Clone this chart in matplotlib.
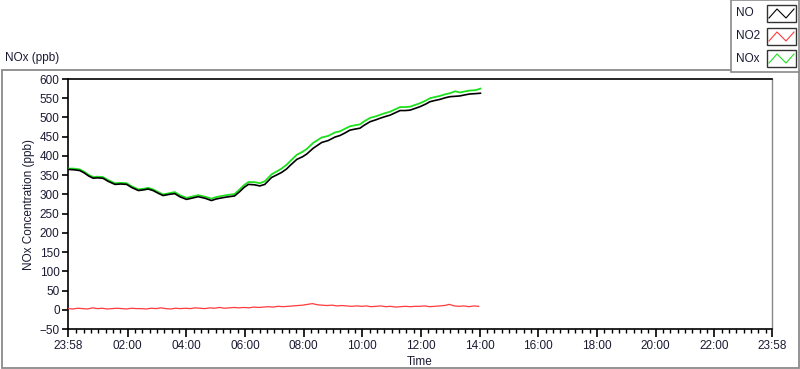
import matplotlib
matplotlib.use("Agg")
import matplotlib.pyplot as plt
from matplotlib.patches import Rectangle
from matplotlib.lines import Line2D

plt.rcParams['font.family'] = ['Liberation Sans', 'DejaVu Sans']

# hours elapsed since 23:58
no_hours = [0.0, 0.2, 0.4, 0.55, 0.7, 0.86, 1.0, 1.19, 1.37, 1.6, 1.8, 2.0, 2.17, 2.4,
            2.6, 2.73, 2.9, 3.1, 3.24, 3.45, 3.64, 3.81, 4.04, 4.27, 4.44, 4.67, 4.89,
            5.05, 5.18, 5.4, 5.68, 5.85, 6.0, 6.15, 6.35, 6.54, 6.71, 6.94, 7.1, 7.28,
            7.45, 7.57, 7.8, 8.0, 8.14, 8.36, 8.65, 8.87, 9.1, 9.27, 9.45, 9.61, 9.8,
            9.95, 10.1, 10.3, 10.5, 10.64, 10.8, 10.98, 11.15, 11.32, 11.5, 11.66,
            11.85, 12.0, 12.2, 12.34, 12.5, 12.68, 12.85, 13.02, 13.2, 13.36, 13.55,
            13.7, 13.9, 14.06]
no_values = [365, 364, 362, 356, 348, 342, 343, 342, 334, 326, 327, 326, 318, 310,
             312, 314, 310, 302, 297, 300, 302, 294, 287, 291, 294, 290, 284,
             288, 290, 293, 296, 307, 318, 326, 325, 322, 326, 344, 350, 357,
             366, 375, 391, 398, 405, 420, 435, 440, 449, 453, 460, 467, 470,
             472, 480, 489, 494, 498, 502, 506, 512, 518, 518, 519,
             524, 528, 535, 541, 544, 547, 551, 554, 555, 556, 559,
             561, 562, 563]
nox_values = [367, 367, 365, 359, 351, 345, 346, 345, 337, 329, 330, 329, 321, 313,
              315, 317, 313, 305, 300, 303, 306, 298, 291, 295, 298, 294, 289,
              293, 295, 298, 301, 313, 324, 332, 332, 329, 334, 352, 359, 367,
              377, 386, 403, 411, 418, 434, 448, 452, 461, 464, 471, 477, 480,
              482, 490, 499, 503, 507, 511, 515, 521, 527, 527, 528,
              533, 537, 544, 550, 553, 556, 560, 563, 568, 565, 568,
              570, 571, 575]

no2_hours = [k / 6 for k in range(85)]
no2_values = [3, 2, 4, 3, 2, 5, 3, 4, 2, 3, 4, 3,
              2, 4, 3, 3, 2, 4, 3, 5, 3, 2, 4, 3,
              4, 3, 5, 4, 3, 5, 4, 6, 4, 5, 6, 5,
              6, 5, 7, 6, 7, 8, 7, 9, 8, 9, 10, 11,
              12, 14, 16, 13, 12, 11, 12, 10, 11, 10, 9, 10,
              9, 10, 8, 9, 10, 8, 9, 7, 8, 9, 8, 9,
              9, 10, 8, 9, 10, 11, 14, 10, 9, 10, 8, 10, 9]

x_tick_labels = ['23:58', '02:00', '04:00', '06:00', '08:00', '10:00', '12:00',
                 '14:00', '16:00', '18:00', '20:00', '22:00', '23:58']
y_ticks = list(range(-50, 601, 50))
series_names = ['NO', 'NO2', 'NOx']
series_colors = ['#000000', '#ff3b3b', '#1ee01e']

W, H = 800, 369
fig = plt.figure(figsize=(8.0, 3.69), dpi=100)
fig.patch.set_facecolor('white')

# outer frame
fig.add_artist(Rectangle((1.5 / W, 1.5 / H), (W - 3) / W, (H - 69 - 2) / H,
                         transform=fig.transFigure, fill=False,
                         edgecolor='#8a8a8a', lw=1.3))

ax = fig.add_axes([68 / W, 1 - 329 / H, (772 - 68) / W, (329 - 79) / H])
txtc = '#1a1a33'

ax.plot(no_hours, nox_values, color=series_colors[2], lw=1.3, zorder=3)
ax.plot(no_hours, no_values, color=series_colors[0], lw=1.2, zorder=4)
ax.plot(no2_hours, no2_values, color=series_colors[1], lw=0.9, zorder=3)

ax.set_xlim(0, 24)
ax.set_ylim(-50, 600)
major = [0] + [2 / 60 + 2 * i for i in range(1, 12)] + [24]
ax.set_xticks(major)
ax.set_xticklabels(x_tick_labels)
minor = []
k = 1
while True:
    v = 2 / 60 + 0.25 * k - 2.0
    k += 1
    if v >= 24:
        break
    if v > 0.05 and all(abs(v - m) > 0.05 for m in major):
        minor.append(v)
ax.set_xticks(minor, minor=True)
ax.set_yticks(y_ticks)
ax.tick_params(axis='both', which='major', labelsize=8.5, colors='black',
               labelcolor=txtc, length=4, width=1.2, direction='out', pad=2)
ax.tick_params(axis='x', which='major', length=6)
ax.tick_params(axis='x', which='minor', length=3, width=1.0, color='black')
for s in ['left', 'top', 'bottom']:
    ax.spines[s].set_color('black')
    ax.spines[s].set_linewidth(1.2)
ax.spines['right'].set_color('#888888')
ax.spines['right'].set_linewidth(1.0)

ax.set_ylabel('NOx Concentration (ppb)', fontsize=8.5, color=txtc, labelpad=3)
ax.set_xlabel('Time', fontsize=8.5, color=txtc, labelpad=3)

fig.text(5 / W, 1 - 58 / H, 'NOx (ppb)', fontsize=8.5, color=txtc,
         ha='left', va='center')

# legend box
fig.add_artist(Rectangle((731 / W, 1 - 72 / H), 68 / W, 72 / H,
                         transform=fig.transFigure, facecolor='white',
                         edgecolor='#8a8a8a', lw=1.2, zorder=5))
rows = [(5, 22, 13.5), (28, 45, 36), (50, 67, 59)]
for name, col, (y0, y1, yt) in zip(series_names, series_colors, rows):
    fig.text(736 / W, 1 - yt / H, name, fontsize=8.5, color=txtc,
             ha='left', va='center', zorder=6)
    fig.add_artist(Rectangle((767 / W, 1 - y1 / H), 29 / W, (y1 - y0) / H,
                             transform=fig.transFigure, facecolor='white',
                             edgecolor='#333333', lw=1.0, zorder=6))
    xs = [769, 777, 786, 794]
    ys = [y1 - 4, y0 + 4, y1 - 4, y0 + 4]
    fig.add_artist(Line2D([x / W for x in xs], [1 - y / H for y in ys],
                          transform=fig.transFigure, color=col, lw=0.8, zorder=7))

fig.savefig('out.png', dpi=100, facecolor='white')
